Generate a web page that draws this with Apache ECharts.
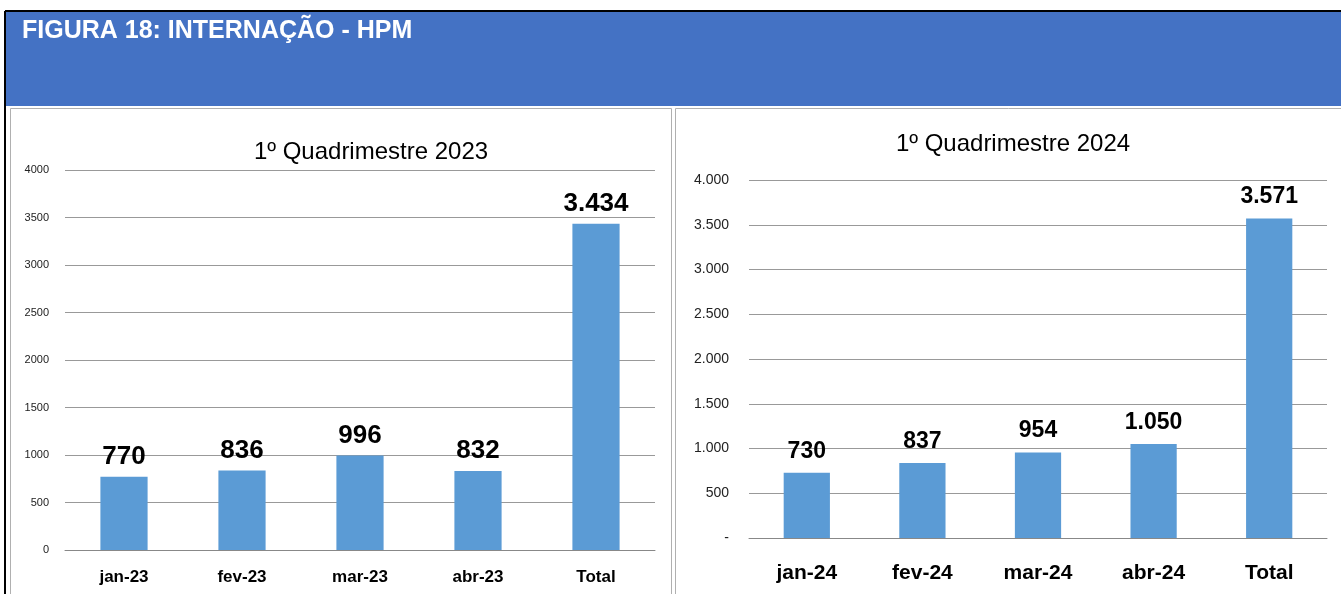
<!DOCTYPE html>
<html>
<head>
<meta charset="utf-8">
<script src="https://cdn.jsdelivr.net/npm/echarts@6/dist/echarts.min.js"></script>
<style>
html, body { margin: 0; padding: 0; background: #fff; }
#main { width: 1341px; height: 594px; }
</style>
</head>
<body>
<div id="main"></div>
<script>
// dados
var categorias2023 = ['jan-23', 'fev-23', 'mar-23', 'abr-23', 'Total'];
var valores2023 = [770, 836, 996, 832, 3434];
var categorias2024 = ['jan-24', 'fev-24', 'mar-24', 'abr-24', 'Total'];
var valores2024 = [730, 837, 954, 1050, 3571];
var ticks2023 = ['0', '500', '1000', '1500', '2000', '2500', '3000', '3500', '4000'];
var ticks2024 = ['-', '500', '1.000', '1.500', '2.000', '2.500', '3.000', '3.500', '4.000'];

var fonte = '"Liberation Sans", Arial, sans-serif';

function milhar(v) {
  return String(v).replace(/\B(?=(\d{3})+(?!\d))/g, '.');
}

var myChart = echarts.init(document.getElementById('main'));

myChart.setOption({
  animation: false,
  textStyle: { fontFamily: fonte },
  graphic: [
    { type: 'rect', shape: { x: 5, y: 11, width: 1336, height: 95 }, style: { fill: '#4472C4' } },
    { type: 'line', shape: { x1: 5, y1: 11, x2: 1341, y2: 11 }, style: { stroke: '#000', lineWidth: 2 } },
    { type: 'line', shape: { x1: 5, y1: 11, x2: 5, y2: 594 }, style: { stroke: '#000', lineWidth: 2 } },
    { type: 'text', left: 22, top: 19, style: { text: 'FIGURA 18: INTERNAÇÃO - HPM', fill: '#fff', font: 'bold 25px ' + fonte } },
    { type: 'rect', shape: { x: 10.5, y: 108.5, width: 661, height: 490 }, style: { fill: 'none', stroke: '#b0b0b0', lineWidth: 1 } },
    { type: 'rect', shape: { x: 675.5, y: 108.5, width: 670, height: 490 }, style: { fill: 'none', stroke: '#b0b0b0', lineWidth: 1 } }
  ],
  title: [
    {
      text: '1º Quadrimestre 2023',
      left: 366, top: 135, textAlign: 'center',
      textStyle: { fontSize: 24, fontWeight: 'normal', color: '#000', fontFamily: fonte }
    },
    {
      text: '1º Quadrimestre 2024',
      left: 1008, top: 127, textAlign: 'center',
      textStyle: { fontSize: 24, fontWeight: 'normal', color: '#000', fontFamily: fonte }
    }
  ],
  grid: [
    { left: 65, right: 686, top: 170, bottom: 44 },
    { left: 749, right: 14, top: 180, bottom: 56 }
  ],
  xAxis: [
    {
      gridIndex: 0, type: 'category', data: categorias2023,
      axisLine: { lineStyle: { color: '#888' } },
      axisTick: { show: false },
      axisLabel: { color: '#000', fontWeight: 'bold', fontSize: 17, margin: 19, fontFamily: fonte }
    },
    {
      gridIndex: 1, type: 'category', data: categorias2024,
      axisLine: { lineStyle: { color: '#888' } },
      axisTick: { show: false },
      axisLabel: { color: '#000', fontWeight: 'bold', fontSize: 21, margin: 25, fontFamily: fonte }
    }
  ],
  yAxis: [
    {
      gridIndex: 0, type: 'value', min: 0, max: 4000, interval: 500,
      axisLine: { show: false }, axisTick: { show: false },
      splitLine: { lineStyle: { color: '#999' } },
      axisLabel: {
        color: '#222', fontSize: 11, margin: 16,
        formatter: function (v) { return ticks2023[v / 500]; }
      }
    },
    {
      gridIndex: 1, type: 'value', min: 0, max: 4000, interval: 500,
      axisLine: { show: false }, axisTick: { show: false },
      splitLine: { lineStyle: { color: '#999' } },
      axisLabel: {
        color: '#222', fontSize: 14, margin: 20,
        formatter: function (v) { return ticks2024[v / 500]; }
      }
    }
  ],
  series: [
    {
      name: '2023', type: 'bar', xAxisIndex: 0, yAxisIndex: 0,
      data: valores2023, barWidth: '40%',
      itemStyle: { color: '#5B9BD5' },
      label: {
        show: true, position: 'top', distance: 7,
        color: '#000', fontWeight: 'bold', fontSize: 26, fontFamily: fonte,
        formatter: function (p) { return milhar(p.value); }
      }
    },
    {
      name: '2024', type: 'bar', xAxisIndex: 1, yAxisIndex: 1,
      data: valores2024, barWidth: '40%',
      itemStyle: { color: '#5B9BD5' },
      label: {
        show: true, position: 'top', distance: 10,
        color: '#000', fontWeight: 'bold', fontSize: 23, fontFamily: fonte,
        formatter: function (p) { return milhar(p.value); }
      }
    }
  ]
});
</script>
</body>
</html>
